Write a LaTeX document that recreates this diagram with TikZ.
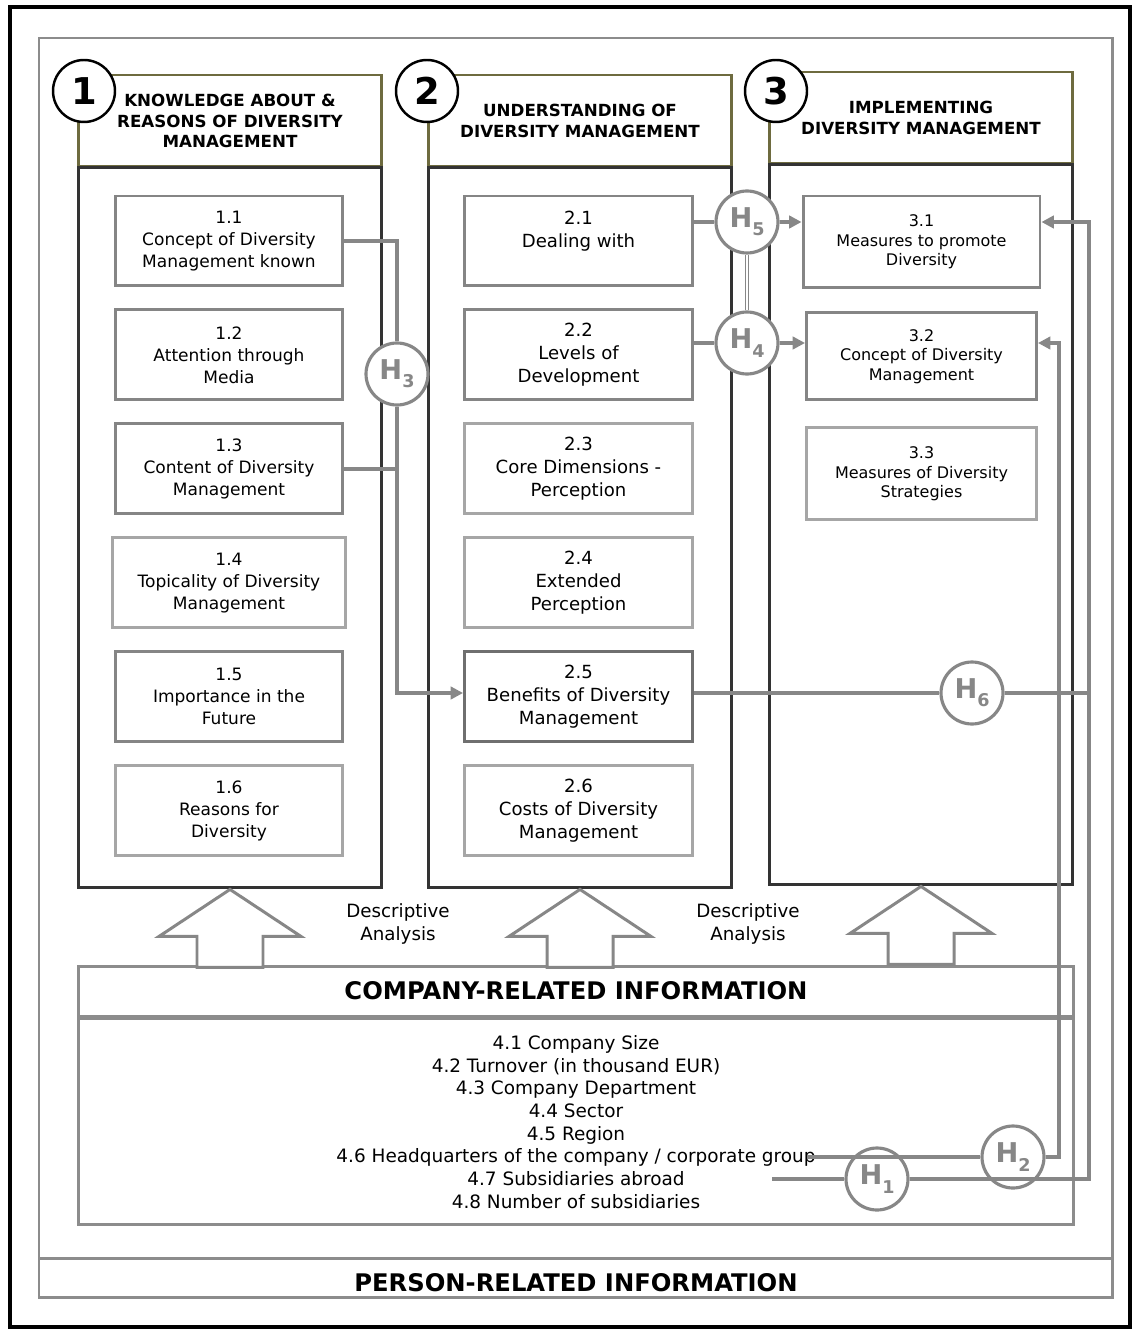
\documentclass[tikz,border=0pt]{standalone}
\usepackage{fontspec}
\setmainfont{DejaVu Sans}
\usetikzlibrary{
  arrows.meta,
  positioning,
  calc
}
\definecolor{dmOlive}{HTML}{6E6B3F}
\definecolor{dmDark}{HTML}{333333}
\definecolor{dmGray}{HTML}{858585}
\definecolor{dmLight}{HTML}{A6A6A6}
\definecolor{dmDeep}{HTML}{6F6F6F}
\definecolor{dmLink}{HTML}{878787}
\definecolor{dmFrame}{HTML}{8C8C8C}
\newcommand{\hyp}[1]{\textbf{H}\raisebox{-0.55ex}{\fontsize{10}{10}\selectfont\bfseries #1}}
\tikzset{
  colhead/.style={
    draw=dmOlive, line width=1.7pt, minimum width=6.08cm, minimum height=1.84cm,
    align=center, font=\fontsize{9.5}{11.6}\selectfont\bfseries
  },
  colbody/.style={draw=dmDark, line width=1.7pt, minimum width=6.08cm, minimum height=14.42cm},
  colnum/.style={draw=black, circle, line width=1.4pt, fill=white, minimum size=1.24cm,
    inner sep=0pt, font=\fontsize{21}{21}\selectfont\bfseries},
  itembox/.style={draw=dmGray, line width=1.7pt, minimum width=4.56cm, minimum height=1.8cm,
    align=center, inner sep=1pt, fill=white},
  itemA/.style={itembox, font=\fontsize{9.7}{12.5}\selectfont},
  itemB/.style={itembox, font=\fontsize{10.3}{13}\selectfont},
  itemC/.style={itembox, minimum width=4.6cm, font=\fontsize{9.1}{11}\selectfont},
  faint/.style={draw=dmLight},
  deep/.style={draw=dmDeep},
  hypo/.style={draw=dmLink, circle, line width=1.8pt, fill=white, minimum size=1.24cm,
    inner sep=0pt, text=dmLink, font=\fontsize{15.5}{15.5}\selectfont},
  hlink/.style={draw=dmLink, line width=1.9pt},
  flow/.style={hlink, -{Triangle[length=7pt,width=7pt]}},
  twin/.style={draw=dmLink, line width=0.9pt, double=white, double distance=1pt},
  bigarrow/.style={draw=dmLink, line width=1.7pt, fill=white, line join=miter},
  infobox/.style={draw=dmFrame, line width=1.7pt, minimum width=19.92cm},
  note/.style={align=center, font=\fontsize{10.4}{13}\selectfont}
}

\begin{document}
\begin{tikzpicture}[x=0.02cm, y=-0.02cm, node distance=0.42cm]
  \useasboundingbox (0,0) rectangle (1138,1334);
  % frames
  \draw[line width=2pt] (10,7) rectangle (1130,1327);
  \draw[draw=dmFrame, line width=1.7pt] (39,38) rectangle (1112,1297);
  \draw[draw=dmFrame, line width=1.7pt] (39,1258) -- (1112,1258);
  \node[font=\fontsize{13.8}{13.8}\selectfont\bfseries] (person) at (576,1283) {PERSON-RELATED INFORMATION};

  % the three columns
  \node[colhead] (head1) at (230,121) {KNOWLEDGE ABOUT \&\\REASONS OF DIVERSITY\\MANAGEMENT};
  \node[colbody] (body1) at (230,527.5) {};
  \node[colhead] (head2) at (580,121) {UNDERSTANDING OF\\DIVERSITY MANAGEMENT};
  \node[colbody] (body2) at (580,527.5) {};
  \node[colhead] (head3) at (921,118) {IMPLEMENTING\\DIVERSITY MANAGEMENT};
  \node[colbody] (body3) at (921,524.5) {};
  \node[colnum] (num1) at (84,91) {1};
  \node[colnum] (num2) at (427,91) {2};
  \node[colnum] (num3) at (776,91) {3};

  % column 1
  \node[itemA] (box11) at (229,241) {1.1\\Concept of Diversity\\Management known};
  \node[itemA, below=of box11] (box12) {1.2\\Attention through\\Media};
  \node[itemA, below=of box12] (box13) {1.3\\Content of Diversity\\Management};
  \node[itemA, faint, minimum width=4.66cm, below=of box13] (box14) {1.4\\Topicality of Diversity\\Management};
  \node[itemA, below=of box14] (box15) {1.5\\Importance in the\\Future};
  \node[itemA, faint, below=of box15] (box16) {1.6\\Reasons for\\Diversity};

  % column 2
  \node[itemB] (box21) at (578.5,241) {2.1\\Dealing with\\~};
  \node[itemB, below=of box21] (box22) {2.2\\Levels of\\Development};
  \node[itemB, faint, below=of box22] (box23) {2.3\\Core Dimensions -\\Perception};
  \node[itemB, faint, below=of box23] (box24) {2.4\\Extended\\Perception};
  \node[itemB, deep, below=of box24] (box25) {2.5\\Benefits of Diversity\\Management};
  \node[itemB, faint, below=of box25] (box26) {2.6\\Costs of Diversity\\Management};

  % column 3
  \node[itemC, minimum width=4.74cm, minimum height=1.84cm] (box31) at (921.5,242) {3.1\\Measures to promote\\Diversity};
  \node[itemC, minimum height=1.74cm, below=0.44cm of box31] (box32) {3.2\\Concept of Diversity\\Management};
  \node[itemC, faint, minimum height=1.84cm, below=0.5cm of box32] (box33) {3.3\\Measures of Diversity\\Strategies};

  % company-related information
  \node[infobox, minimum height=1cm, font=\fontsize{13.8}{13.8}\selectfont\bfseries] (comphead) at (576,991) {COMPANY-RELATED INFORMATION};
  \node[infobox, minimum height=4.12cm, below=0pt of comphead] (compbody) {};
  \node[note, font=\fontsize{10.5}{12.9}\selectfont] (complist) at (compbody) {4.1 Company Size\\4.2 Turnover (in thousand EUR)\\4.3 Company Department\\4.4 Sector\\4.5 Region\\4.6 Headquarters of the company / corporate group\\4.7 Subsidiaries abroad\\4.8 Number of subsidiaries};

  % descriptive analysis arrows
  \foreach \b in {body1,body2,body3}{
    \draw[bigarrow] (\b.south) -- ++(-71,47) -- ++(38,0) -- ++(0,31) -- ++(66,0) -- ++(0,-31) -- ++(38,0) -- cycle;
  }
  \node[note] (desc1) at (398,924) {Descriptive\\Analysis};
  \node[note] (desc2) at (748,924) {Descriptive\\Analysis};

  % hypotheses
  \node[hypo] (H5) at (747,222) {\hyp{5}};
  \node[hypo] (H4) at (747,343) {\hyp{4}};
  \node[hypo] (H3) at (397,374) {\hyp{3}};
  \node[hypo] (H6) at (972,693) {\hyp{6}};
  \node[hypo] (H2) at (1013,1157) {\hyp{2}};
  \node[hypo] (H1) at (877,1179) {\hyp{1}};
  \coordinate (railA) at (1089,1179);
  \coordinate (railB) at (1059,1157);
  \coordinate (from47) at (772,1179);
  \coordinate (from46) at (807,1157);

  \draw[hlink] (box11.east) -| (H3.north);
  \draw[hlink] (box13.east) -- (box13.east -| H3);
  \draw[flow] (H3.south) |- (box25.west |- H6);
  \draw[hlink] (box21.east |- H5) -- (H5);
  \draw[flow] (H5) -- (box31.west |- H5);
  \draw[hlink] (box22.east |- H4) -- (H4);
  \draw[flow] (H4) -- (box32.west |- H4);
  \draw[twin] (H5) -- (H4);
  \draw[hlink] (box25.east |- H6) -- (H6);
  \draw[hlink] (H6) -- (H6 -| railA);
  \draw[hlink] (from46) -- (H2);
  \draw[flow] (H2) -- (railB) |- (box32.east |- H4);
  \draw[hlink] (from47) -- (H1);
  \draw[flow] (H1) -- (railA) |- (box31.east |- H5);
\end{tikzpicture}
\end{document}
